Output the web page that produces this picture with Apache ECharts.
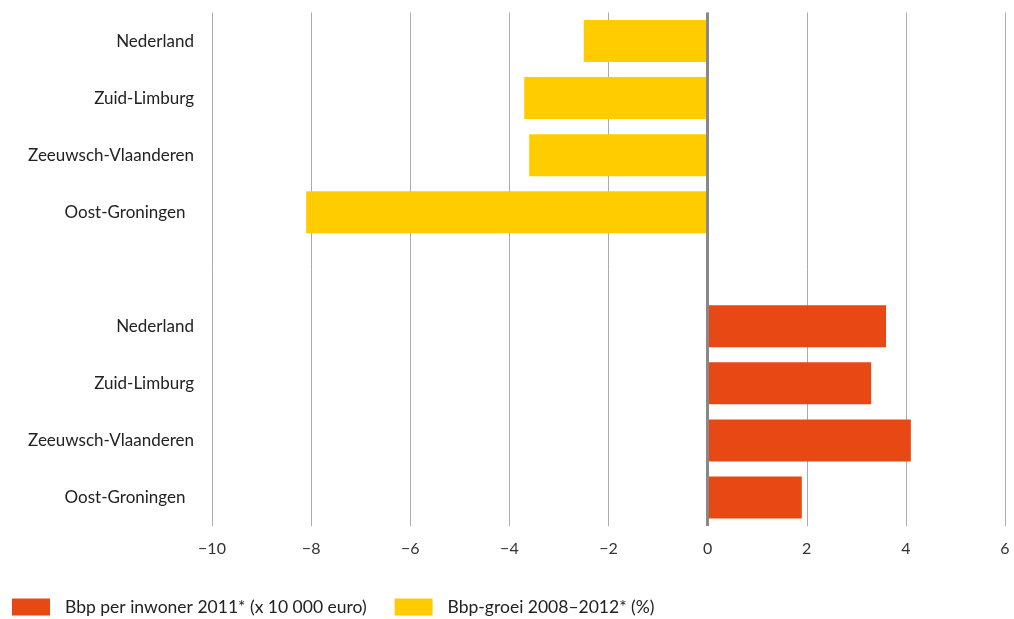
<!DOCTYPE html>
<html>
<head>
<meta charset="utf-8">
<script src="https://cdn.jsdelivr.net/npm/echarts@6/dist/echarts.min.js"></script>
<style>html,body{margin:0;padding:0;background:#fff}#c{width:1014px;height:619px}</style>
</head>
<body>
<div id="c"></div>
<script>
var categoryKeys = ["g_ned","g_zl","g_zv","g_og","gap","i_ned","i_zl","i_zv","i_og"];
var categoryLabels = ["Nederland","Zuid-Limburg","Zeeuwsch-Vlaanderen","Oost-Groningen\u2002","","Nederland","Zuid-Limburg","Zeeuwsch-Vlaanderen","Oost-Groningen\u2002"];
var groeiName = "Bbp-groei 2008–2012* (%)";
var inwonerName = "Bbp per inwoner 2011* (x 10 000 euro)";
var groeiValues = [-2.5, -3.7, -3.6, -8.1, null, null, null, null, null];
var inwonerValues = [null, null, null, null, null, 3.6, 3.3, 4.1, 1.9];
var xTicks = {min: -10, max: 6, interval: 2};

var font = "Lato, 'Open Sans', sans-serif";
var chart = echarts.init(document.getElementById('c'));
chart.setOption({
  animation: false,
  grid: {left: 212, right: 9, top: 12.5, bottom: 93},
  legend: {
    left: 7, top: 593,
    itemWidth: 38, itemHeight: 17, itemGap: 28,
    icon: 'rect',
    data: [inwonerName, groeiName],
    textStyle: {fontFamily: font, fontSize: 17.5, color: '#222', padding: [0, 0, 0, 10]}
  },
  xAxis: {
    type: 'value', min: xTicks.min, max: xTicks.max, interval: xTicks.interval,
    axisLine: {show: false}, axisTick: {show: false},
    splitLine: {show: true, lineStyle: {color: '#ababab', width: 1}},
    axisLabel: {fontFamily: font, fontSize: 16, color: '#333', margin: 15,
      formatter: function(v){ return v < 0 ? '\u2212' + Math.abs(v) : String(v); }}
  },
  yAxis: {
    type: 'category', inverse: true, data: categoryKeys,
    axisLine: {show: false}, axisTick: {show: false}, splitLine: {show: false},
    axisLabel: {fontFamily: font, fontSize: 17, color: '#222', margin: 18,
      formatter: function(v, i){ return categoryLabels[i]; }}
  },
  series: [
    {name: inwonerName, type: 'bar', stack: 'all', barWidth: 42, data: inwonerValues,
     itemStyle: {color: '#e84813'}},
    {name: groeiName, type: 'bar', stack: 'all', barWidth: 42, data: groeiValues,
     itemStyle: {color: '#ffcc00'},
     markLine: {silent: true, symbol: 'none', label: {show: false},
       lineStyle: {color: '#888', width: 3, type: 'solid'},
       data: [{xAxis: 0}]}}
  ]
});
</script>
</body>
</html>
